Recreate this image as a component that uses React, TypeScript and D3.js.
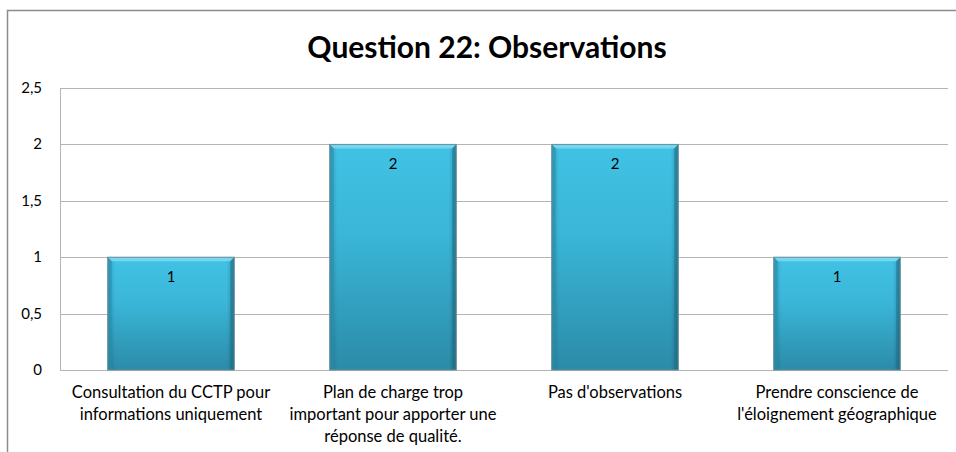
import React from "react";
import * as d3 from "d3";

const categories: string[][] = [
  ["Consultation du CCTP pour", "informations uniquement"],
  ["Plan de charge trop", "important pour apporter une", "réponse de qualité."],
  ["Pas d'observations"],
  ["Prendre conscience de", "l'éloignement géographique"],
];
const values: number[] = [1, 2, 2, 1];
const yTicks: number[] = [0, 0.5, 1, 1.5, 2, 2.5];
const title = "Question 22: Observations";

const W = 956;
const H = 452;
const FONT = "Lato, 'Open Sans', sans-serif";

export default function App() {
  const left = 60, right = 948, top = 88, bottom = 370;
  const x = d3.scaleBand<number>().domain(values.map((_, i) => i)).range([left, right]).paddingInner(0.43).paddingOuter(0.215);
  const y = d3.scaleLinear().domain([0, 2.5]).range([bottom, top]);
  const fmt = (v: number) => String(v).replace(".", ",");
  const bw = x.bandwidth();
  return (
    <svg width={W} height={H} style={{ position: "absolute", left: 0, top: 0, display: "block" }}>
      <defs>
        <linearGradient id="gv" x1="0" y1="0" x2="0" y2="1">
          <stop offset="0%" stopColor="#41c2e4" />
          <stop offset="40%" stopColor="#3ab6d8" />
          <stop offset="100%" stopColor="#2b8ba8" />
        </linearGradient>
        <linearGradient id="gh" x1="0" y1="0" x2="1" y2="0">
          <stop offset="0%" stopColor="#000" stopOpacity="0.18" />
          <stop offset="6%" stopColor="#000" stopOpacity="0" />
          <stop offset="94%" stopColor="#000" stopOpacity="0" />
          <stop offset="100%" stopColor="#000" stopOpacity="0.22" />
        </linearGradient>
      </defs>
      <rect x={0} y={0} width={W} height={H} fill="#fff" />
      <rect x={7.5} y={10.5} width={W + 20} height={H + 20} fill="#fff" stroke="#8c8c8c" strokeWidth={1.5} />
      <text x={487} y={58} textAnchor="middle" fontFamily={FONT} fontWeight="bold" fontSize={30} fill="#000">{title}</text>
      {yTicks.map((t) => (
        <g key={t}>
          <line x1={left} x2={right} y1={Math.round(y(t)) + 0.5} y2={Math.round(y(t)) + 0.5} stroke="#b4b4b4" strokeWidth={1} />
          <text x={42} y={y(t) + 5} textAnchor="end" fontFamily={FONT} fontSize={15} fill="#000">{fmt(t)}</text>
        </g>
      ))}
      <line x1={left + 0.5} x2={left + 0.5} y1={top} y2={bottom} stroke="#b4b4b4" />
      {values.map((v, i) => {
        const bx = x(i)!;
        const by = y(v);
        const bh = bottom - by;
        const b = 4;
        return (
          <g key={i}>
            <rect x={bx} y={by} width={bw} height={bh} fill="url(#gv)" />
            <rect x={bx} y={by} width={bw} height={bh} fill="url(#gh)" />
            <polygon points={`${bx},${by} ${bx + bw},${by} ${bx + bw - b},${by + b} ${bx + b},${by + b}`} fill="#7fdcf2" opacity={0.85} />
            <polygon points={`${bx},${by} ${bx + b},${by + b} ${bx + b},${bottom} ${bx},${bottom}`} fill="#2a8fae" opacity={0.6} />
            <polygon points={`${bx + bw},${by} ${bx + bw - b},${by + b} ${bx + bw - b},${bottom} ${bx + bw},${bottom}`} fill="#1f6f88" opacity={0.6} />
            <rect x={bx} y={by} width={bw} height={bh} fill="none" stroke="#6d8f99" strokeWidth={1} />
            <text x={bx + bw / 2} y={by + 25} textAnchor="middle" fontFamily={FONT} fontSize={15} fill="#000">{v}</text>
          </g>
        );
      })}
      {categories.map((lines, i) => (
        <text key={i} textAnchor="middle" fontFamily={FONT} fontSize={16.5} fill="#000">
          {lines.map((l, j) => (
            <tspan key={j} x={x(i)! + bw / 2} y={398 + j * 22}>{l}</tspan>
          ))}
        </text>
      ))}
    </svg>
  );
}
